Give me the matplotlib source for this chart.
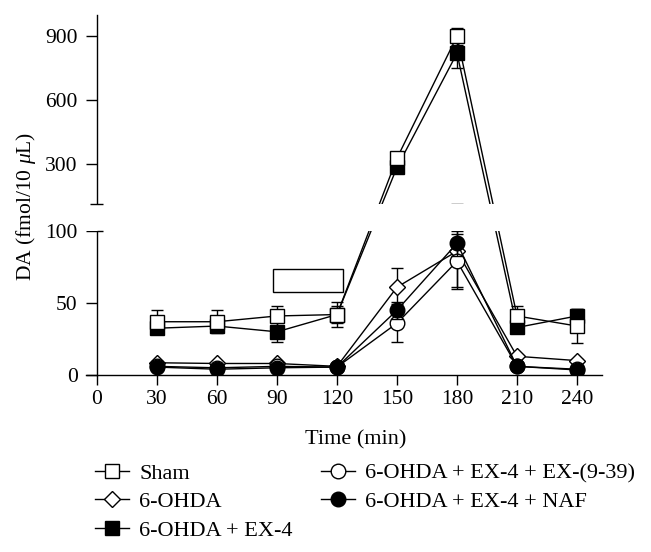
import numpy as np
import matplotlib
matplotlib.use("Agg")
import matplotlib.pyplot as plt
from matplotlib.patches import Rectangle
from matplotlib.lines import Line2D

# ---------------- data ----------------
time_min = [30, 60, 90, 120, 150, 180, 210, 240]

sham_mean = [37, 37, 41, 42, 326, 900, 41, 34]
sham_err = [8, 8, 7, 6, 20, 40, 7, 12]

ohda_mean = [8.5, 8, 8, 6, 61, 86, 13, 10]
ohda_err = [1, 1, 1, 1, 13, 25, 1, 1]

ex4_mean = [32.5, 34, 30, 42, 283, 820, 33, 41]
ex4_err = [2, 2, 7, 9, 28, 70, 2, 5]

ex939_mean = [6, 5, 6, 5.5, 36, 79, 6, 4]
ex939_err = [1, 1, 1, 1, 13, 19, 1, 1]

naf_mean = [5.5, 4, 5, 5.5, 45, 91.5, 6, 3.5]
naf_err = [1, 1, 1, 1, 6, 8.5, 1, 1]

labels = ["Sham", "6-OHDA", "6-OHDA + EX-4",
          "6-OHDA + EX-4 + EX-(9-39)", "6-OHDA + EX-4 + NAF"]

# infusion bar (drug application period) shown as an open box
infusion_time = [88, 123]
infusion_level = [57.5, 73.5]

xticks = [0, 30, 60, 90, 120, 150, 180, 210, 240]
yticks = [0, 50, 100, 300, 600, 900]

# --------------- style ----------------
plt.rcParams['font.family'] = ['Liberation Serif', 'DejaVu Serif']
plt.rcParams['mathtext.fontset'] = 'custom'
plt.rcParams['mathtext.rm'] = 'Liberation Serif'
plt.rcParams['mathtext.it'] = 'Liberation Serif:italic'
FS = 15.5

# broken y-scale: lower segment 0-100, hidden gap 100-110, upper segment 110-1000
V = np.array([0.0, 100.0, 110.0, 1000.0])
D = np.array([0.0, 144.0, 171.0, 360.1])


def fwd(v):
    v = np.asarray(v, dtype=float)
    return np.where(v <= V[1], v * (D[1] / V[1]),
           np.where(v <= V[2], D[1] + (v - V[1]) * (D[2] - D[1]) / (V[2] - V[1]),
                    D[2] + (v - V[2]) * (D[3] - D[2]) / (V[3] - V[2])))


def inv(d):
    d = np.asarray(d, dtype=float)
    return np.where(d <= D[1], d * (V[1] / D[1]),
           np.where(d <= D[2], V[1] + (d - D[1]) * (V[2] - V[1]) / (D[2] - D[1]),
                    V[2] + (d - D[2]) * (V[3] - V[2]) / (D[3] - D[2])))


W, H = 651, 552
fig = plt.figure(figsize=(W / 100, H / 100), dpi=100)
x_left_px, x_right_px = 86, 602
y_bot_px, y_top_px = 375, 15
ax = fig.add_axes([x_left_px / W, 1 - y_bot_px / H,
                   (x_right_px - x_left_px) / W, (y_bot_px - y_top_px) / H])
ax.set_yscale('function', functions=(fwd, inv))
ax.set_xlim(-5.5, 252.5)
ax.set_ylim(0, 1000)

lw = 1.0
mew = 1.0
series = [
    (ohda_mean, ohda_err, dict(marker='D', ms=8.3, mfc='white'), labels[1], 3),
    (ex939_mean, ex939_err, dict(marker='o', ms=10.5, mfc='white'), labels[3], 4),
    (naf_mean, naf_err, dict(marker='o', ms=10.5, mfc='black'), labels[4], 5),
    (ex4_mean, ex4_err, dict(marker='s', ms=9.8, mfc='black'), labels[2], 6),
    (sham_mean, sham_err, dict(marker='s', ms=9.8, mfc='white'), labels[0], 7),
]
handles = {}
for mean, err, mk, lab, z in series:
    ax.errorbar(time_min, mean, yerr=err, fmt='none', ecolor='black',
                elinewidth=lw, capsize=4.5, capthick=lw, zorder=z - 0.5)
    ln, = ax.plot(time_min, mean, color='black', lw=lw, mec='black',
                  mew=mew, zorder=z, label=lab, **mk)
    handles[lab] = ln

# infusion box
ax.add_patch(Rectangle((infusion_time[0], infusion_level[0]),
                       infusion_time[1] - infusion_time[0],
                       infusion_level[1] - infusion_level[0],
                       facecolor='white', edgecolor='black', lw=1.0, zorder=8))

# gap of the broken axis
ax.add_patch(Rectangle((-5.5, V[1]), 260, V[2] - V[1], facecolor='white',
                       edgecolor='none', zorder=9))
# break caps
ax.plot([-3.3, 3.0], [V[2], V[2]], color='black', lw=1.0, zorder=10,
        clip_on=False, solid_capstyle='butt')
ax.plot([0, 3.0], [V[1], V[1]], color='black', lw=1.0, zorder=10,
        clip_on=False, solid_capstyle='butt')

# axes
for s in ['top', 'right']:
    ax.spines[s].set_visible(False)
ax.spines['left'].set_position(('data', 0))
ax.spines['left'].set_linewidth(1.0)
ax.spines['bottom'].set_linewidth(1.0)
ax.set_xticks(xticks)
ax.set_yticks(yticks)
ax.set_xticklabels([str(t) for t in xticks])
ax.set_yticklabels([str(t) for t in yticks])
ax.tick_params(axis='x', direction='out', length=7.2, width=1.0,
               labelsize=FS, pad=3.5)
ax.tick_params(axis='y', direction='out', length=8.0, width=1.0,
               labelsize=FS, pad=6)
ax.set_xlabel('Time (min)', fontsize=FS + 0.5)
ax.xaxis.set_label_coords((356 - x_left_px) / (x_right_px - x_left_px),
                          -(440 - y_bot_px) / (y_bot_px - y_top_px))
ax.xaxis.label.set_va('center')
ax.set_ylabel(r'DA (fmol/10 $\mu$L)', fontsize=FS)
ax.yaxis.set_label_coords((26 - x_left_px) / (x_right_px - x_left_px),
                          (y_bot_px - 206) / (y_bot_px - y_top_px))
ax.yaxis.label.set_va('center')

order = [labels[0], labels[1], labels[2], labels[3], labels[4]]
leg_handles = []
for lab in order:
    h = handles[lab]
    leg_handles.append(Line2D([], [], color='black', lw=lw, marker=h.get_marker(),
                              ms=h.get_markersize(), mfc=h.get_markerfacecolor(),
                              mec='black', mew=mew))
fig.legend(leg_handles, order, ncol=2, loc='upper left',
           bbox_to_anchor=(95 / W, 1 - 463 / H), frameon=False, fontsize=16,
           handlelength=1.55, handletextpad=0.45, columnspacing=1.25,
           labelspacing=0.36, borderaxespad=0, borderpad=0)

fig.savefig('out.png', dpi=100)
